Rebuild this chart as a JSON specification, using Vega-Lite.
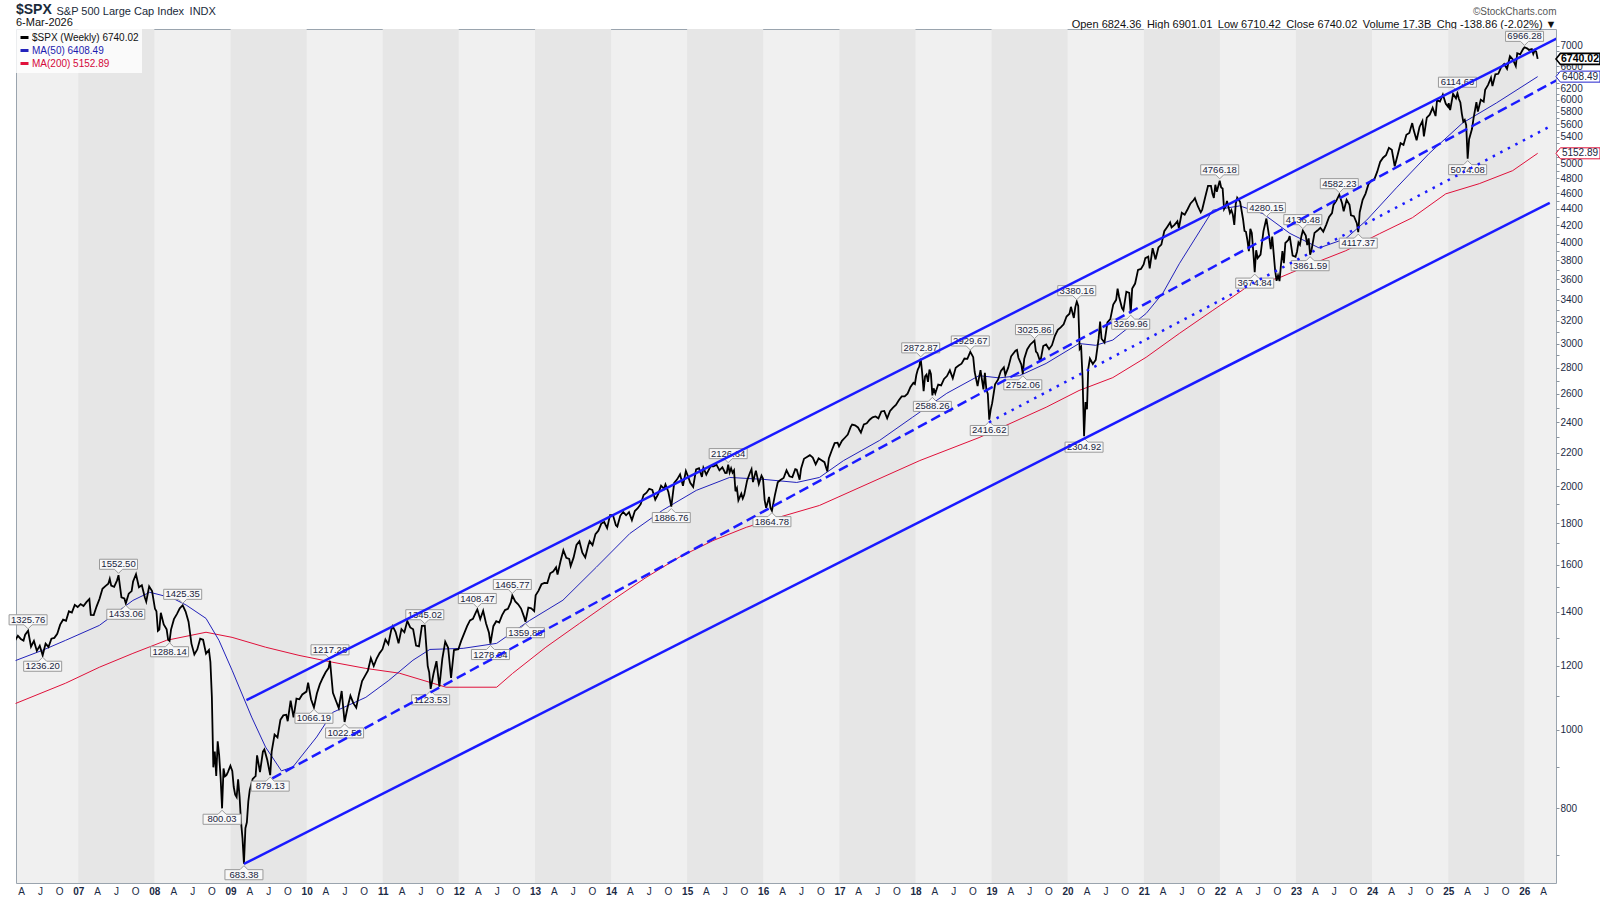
{
  "$schema": "https://vega.github.io/schema/vega-lite/v6.json",
  "width": 1540,
  "height": 854,
  "autosize": {"type": "none"},
  "padding": {"left": 16, "top": 29, "right": 44, "bottom": 17},
  "background": "white",
  "title": {
    "text": "$SPX",
    "subtitle": "6-Mar-2026",
    "anchor": "start",
    "frame": "group",
    "font": "Liberation Sans",
    "fontSize": 14,
    "fontWeight": "bold",
    "color": "#1a2a3a",
    "subtitleFont": "Liberation Sans",
    "subtitleFontSize": 11,
    "subtitleColor": "#111111",
    "subtitlePadding": 0,
    "offset": 2,
    "dy": 24
  },
  "config": {
    "font": "Liberation Sans",
    "view": {"stroke": "#9aa4ae", "fill": "#f0f0f0"}
  },
  "datasets": {
    "years": [
      {"d": "2007-01-01", "d2": "2008-01-01"},
      {"d": "2009-01-01", "d2": "2010-01-01"},
      {"d": "2011-01-01", "d2": "2012-01-01"},
      {"d": "2013-01-01", "d2": "2014-01-01"},
      {"d": "2015-01-01", "d2": "2016-01-01"},
      {"d": "2017-01-01", "d2": "2018-01-01"},
      {"d": "2019-01-01", "d2": "2020-01-01"},
      {"d": "2021-01-01", "d2": "2022-01-01"},
      {"d": "2023-01-01", "d2": "2024-01-01"},
      {"d": "2025-01-01", "d2": "2026-01-01"}
    ],
    "price": [
      {"d":"2006-03-03","v":1288},{"d":"2006-03-17","v":1307},{"d":"2006-03-31","v":1295},{"d":"2006-04-13","v":1289},{"d":"2006-04-21","v":1311},{"d":"2006-05-05","v":1325.76},{"d":"2006-05-19","v":1267},{"d":"2006-06-02","v":1288},{"d":"2006-06-16","v":1252},{"d":"2006-06-30","v":1270},{"d":"2006-07-14","v":1236.20},{"d":"2006-07-28","v":1278},{"d":"2006-08-11","v":1266},{"d":"2006-08-25","v":1296},{"d":"2006-09-08","v":1299},{"d":"2006-09-22","v":1314},{"d":"2006-10-06","v":1349},{"d":"2006-10-20","v":1368},{"d":"2006-11-03","v":1364},{"d":"2006-11-17","v":1401},{"d":"2006-12-01","v":1396},{"d":"2006-12-15","v":1427},{"d":"2006-12-29","v":1418},
      {"d":"2007-01-12","v":1430},{"d":"2007-01-26","v":1422},{"d":"2007-02-09","v":1438},{"d":"2007-02-23","v":1451},{"d":"2007-03-02","v":1387},{"d":"2007-03-16","v":1386},{"d":"2007-03-30","v":1421},{"d":"2007-04-13","v":1452},{"d":"2007-04-27","v":1494},{"d":"2007-05-11","v":1505},{"d":"2007-05-25","v":1515},{"d":"2007-06-01","v":1536},{"d":"2007-06-08","v":1507},{"d":"2007-06-22","v":1502},{"d":"2007-07-06","v":1530},{"d":"2007-07-13","v":1552.50},{"d":"2007-07-27","v":1458},{"d":"2007-08-10","v":1453},{"d":"2007-08-17","v":1433.06},{"d":"2007-08-31","v":1473},{"d":"2007-09-14","v":1484},{"d":"2007-09-21","v":1525},{"d":"2007-10-05","v":1557},{"d":"2007-10-19","v":1500},{"d":"2007-11-02","v":1509},{"d":"2007-11-16","v":1458},{"d":"2007-11-23","v":1440},{"d":"2007-12-07","v":1504},{"d":"2007-12-21","v":1484},
      {"d":"2008-01-04","v":1411},{"d":"2008-01-11","v":1401},{"d":"2008-01-18","v":1325},{"d":"2008-01-25","v":1330},{"d":"2008-02-01","v":1395},{"d":"2008-02-15","v":1350},{"d":"2008-02-29","v":1331},{"d":"2008-03-07","v":1293},{"d":"2008-03-14","v":1288.14},{"d":"2008-03-21","v":1330},{"d":"2008-04-04","v":1370},{"d":"2008-04-18","v":1390},{"d":"2008-05-02","v":1413},{"d":"2008-05-16","v":1425.35},{"d":"2008-05-30","v":1400},{"d":"2008-06-13","v":1360},{"d":"2008-06-27","v":1278},{"d":"2008-07-11","v":1239},{"d":"2008-07-25","v":1257},{"d":"2008-08-08","v":1296},{"d":"2008-08-22","v":1292},{"d":"2008-09-05","v":1242},{"d":"2008-09-19","v":1255},{"d":"2008-09-26","v":1213},{"d":"2008-10-03","v":1099},{"d":"2008-10-10","v":899},{"d":"2008-10-17","v":940},{"d":"2008-10-24","v":877},{"d":"2008-10-31","v":968},{"d":"2008-11-07","v":930},{"d":"2008-11-14","v":873},{"d":"2008-11-21","v":800.03},{"d":"2008-11-28","v":896},{"d":"2008-12-05","v":876},{"d":"2008-12-12","v":879},{"d":"2008-12-19","v":887},{"d":"2008-12-31","v":903},
      {"d":"2009-01-09","v":890},{"d":"2009-01-16","v":850},{"d":"2009-01-23","v":832},{"d":"2009-01-30","v":826},{"d":"2009-02-06","v":869},{"d":"2009-02-13","v":827},{"d":"2009-02-20","v":770},{"d":"2009-02-27","v":735},{"d":"2009-03-06","v":683.38},{"d":"2009-03-13","v":756},{"d":"2009-03-20","v":769},{"d":"2009-03-27","v":816},{"d":"2009-04-03","v":843},{"d":"2009-04-17","v":870},{"d":"2009-05-01","v":877},{"d":"2009-05-08","v":930},{"d":"2009-05-22","v":887},{"d":"2009-06-05","v":940},{"d":"2009-06-12","v":946},{"d":"2009-06-26","v":918},{"d":"2009-07-10","v":879.13},{"d":"2009-07-17","v":940},{"d":"2009-07-31","v":987},{"d":"2009-08-14","v":979},{"d":"2009-08-28","v":1029},{"d":"2009-09-11","v":1042},{"d":"2009-09-25","v":1044},{"d":"2009-10-02","v":1025},{"d":"2009-10-16","v":1087},{"d":"2009-10-30","v":1036},{"d":"2009-11-13","v":1093},{"d":"2009-11-27","v":1091},{"d":"2009-12-11","v":1106},{"d":"2009-12-31","v":1115},
      {"d":"2010-01-08","v":1144},{"d":"2010-01-22","v":1091},{"d":"2010-02-05","v":1066.19},{"d":"2010-02-19","v":1109},{"d":"2010-03-05","v":1138},{"d":"2010-03-19","v":1159},{"d":"2010-04-02","v":1178},{"d":"2010-04-16","v":1192},{"d":"2010-04-23","v":1217.28},{"d":"2010-05-07","v":1111},{"d":"2010-05-21","v":1087},{"d":"2010-06-04","v":1064},{"d":"2010-06-18","v":1117},{"d":"2010-07-02","v":1022.58},{"d":"2010-07-16","v":1065},{"d":"2010-07-30","v":1102},{"d":"2010-08-13","v":1079},{"d":"2010-08-27","v":1065},{"d":"2010-09-10","v":1110},{"d":"2010-09-24","v":1149},{"d":"2010-10-08","v":1166},{"d":"2010-10-22","v":1183},{"d":"2010-11-05","v":1226},{"d":"2010-11-19","v":1199},{"d":"2010-12-03","v":1225},{"d":"2010-12-17","v":1244},{"d":"2010-12-31","v":1258},
      {"d":"2011-01-14","v":1293},{"d":"2011-01-28","v":1276},{"d":"2011-02-11","v":1329},{"d":"2011-02-18","v":1343},{"d":"2011-03-04","v":1321},{"d":"2011-03-18","v":1279},{"d":"2011-04-01","v":1332},{"d":"2011-04-15","v":1320},{"d":"2011-04-29","v":1363},{"d":"2011-05-13","v":1338},{"d":"2011-05-27","v":1331},{"d":"2011-06-10","v":1271},{"d":"2011-06-24","v":1268},{"d":"2011-07-08","v":1344},{"d":"2011-07-22","v":1345.02},{"d":"2011-08-05","v":1199},{"d":"2011-08-12","v":1178},{"d":"2011-08-19","v":1123.53},{"d":"2011-09-02","v":1174},{"d":"2011-09-16","v":1216},{"d":"2011-09-30","v":1131},{"d":"2011-10-14","v":1224},{"d":"2011-10-28","v":1285},{"d":"2011-11-11","v":1263},{"d":"2011-11-25","v":1159},{"d":"2011-12-09","v":1255},{"d":"2011-12-30","v":1258},
      {"d":"2012-01-13","v":1289},{"d":"2012-01-27","v":1316},{"d":"2012-02-10","v":1343},{"d":"2012-02-24","v":1365},{"d":"2012-03-09","v":1371},{"d":"2012-03-23","v":1397},{"d":"2012-03-30","v":1408.47},{"d":"2012-04-13","v":1370},{"d":"2012-04-27","v":1403},{"d":"2012-05-11","v":1353},{"d":"2012-05-25","v":1318},{"d":"2012-06-01","v":1278.04},{"d":"2012-06-15","v":1343},{"d":"2012-06-29","v":1362},{"d":"2012-07-13","v":1357},{"d":"2012-07-27","v":1386},{"d":"2012-08-10","v":1406},{"d":"2012-08-24","v":1411},{"d":"2012-09-07","v":1438},{"d":"2012-09-14","v":1465.77},{"d":"2012-09-28","v":1441},{"d":"2012-10-12","v":1429},{"d":"2012-10-26","v":1412},{"d":"2012-11-09","v":1380},{"d":"2012-11-16","v":1359.88},{"d":"2012-11-30","v":1416},{"d":"2012-12-14","v":1413},{"d":"2012-12-28","v":1402},
      {"d":"2013-01-04","v":1466},{"d":"2013-01-18","v":1486},{"d":"2013-02-01","v":1513},{"d":"2013-02-15","v":1519},{"d":"2013-03-01","v":1518},{"d":"2013-03-15","v":1561},{"d":"2013-03-29","v":1569},{"d":"2013-04-12","v":1588},{"d":"2013-04-19","v":1555},{"d":"2013-05-03","v":1614},{"d":"2013-05-17","v":1667},{"d":"2013-05-31","v":1631},{"d":"2013-06-14","v":1626},{"d":"2013-06-21","v":1593},{"d":"2013-07-05","v":1632},{"d":"2013-07-19","v":1692},{"d":"2013-08-02","v":1710},{"d":"2013-08-16","v":1655},{"d":"2013-08-30","v":1633},{"d":"2013-09-13","v":1688},{"d":"2013-09-20","v":1710},{"d":"2013-10-04","v":1691},{"d":"2013-10-18","v":1745},{"d":"2013-11-01","v":1762},{"d":"2013-11-15","v":1798},{"d":"2013-11-29","v":1806},{"d":"2013-12-13","v":1775},{"d":"2013-12-27","v":1842},
      {"d":"2014-01-10","v":1842},{"d":"2014-01-24","v":1790},{"d":"2014-01-31","v":1783},{"d":"2014-02-14","v":1838},{"d":"2014-02-28","v":1859},{"d":"2014-03-14","v":1841},{"d":"2014-03-28","v":1857},{"d":"2014-04-11","v":1815},{"d":"2014-04-25","v":1863},{"d":"2014-05-09","v":1878},{"d":"2014-05-23","v":1900},{"d":"2014-06-06","v":1950},{"d":"2014-06-20","v":1963},{"d":"2014-07-03","v":1985},{"d":"2014-07-18","v":1978},{"d":"2014-08-01","v":1925},{"d":"2014-08-15","v":1955},{"d":"2014-08-29","v":2003},{"d":"2014-09-12","v":1985},{"d":"2014-09-19","v":2010},{"d":"2014-10-03","v":1967},{"d":"2014-10-17","v":1886.76},{"d":"2014-10-31","v":2018},{"d":"2014-11-14","v":2039},{"d":"2014-11-28","v":2068},{"d":"2014-12-12","v":2002},{"d":"2014-12-26","v":2088},
      {"d":"2015-01-09","v":2044},{"d":"2015-01-16","v":2019},{"d":"2015-01-30","v":1995},{"d":"2015-02-13","v":2097},{"d":"2015-02-27","v":2105},{"d":"2015-03-13","v":2053},{"d":"2015-03-20","v":2108},{"d":"2015-04-03","v":2067},{"d":"2015-04-24","v":2117},{"d":"2015-05-08","v":2116},{"d":"2015-05-22","v":2126},{"d":"2015-06-05","v":2092},{"d":"2015-06-19","v":2110},{"d":"2015-07-03","v":2076},{"d":"2015-07-10","v":2077},{"d":"2015-07-17","v":2126.64},{"d":"2015-07-24","v":2079},{"d":"2015-07-31","v":2104},{"d":"2015-08-07","v":2078},{"d":"2015-08-14","v":2092},{"d":"2015-08-21","v":1971},{"d":"2015-08-28","v":1989},{"d":"2015-09-04","v":1921},{"d":"2015-09-18","v":1958},{"d":"2015-09-25","v":1931},{"d":"2015-10-02","v":1951},{"d":"2015-10-16","v":2033},{"d":"2015-10-30","v":2079},{"d":"2015-11-06","v":2099},{"d":"2015-11-13","v":2023},{"d":"2015-11-27","v":2090},{"d":"2015-12-11","v":2012},{"d":"2015-12-24","v":2061},{"d":"2015-12-31","v":2044},
      {"d":"2016-01-08","v":1922},{"d":"2016-01-15","v":1880},{"d":"2016-01-22","v":1907},{"d":"2016-01-29","v":1940},{"d":"2016-02-05","v":1880},{"d":"2016-02-12","v":1864.78},{"d":"2016-02-26","v":1948},{"d":"2016-03-11","v":2022},{"d":"2016-03-24","v":2035},{"d":"2016-04-08","v":2047},{"d":"2016-04-22","v":2092},{"d":"2016-05-06","v":2057},{"d":"2016-05-20","v":2052},{"d":"2016-06-03","v":2099},{"d":"2016-06-10","v":2096},{"d":"2016-06-24","v":2037},{"d":"2016-07-01","v":2103},{"d":"2016-07-15","v":2162},{"d":"2016-07-29","v":2173},{"d":"2016-08-12","v":2184},{"d":"2016-08-26","v":2169},{"d":"2016-09-09","v":2128},{"d":"2016-09-23","v":2165},{"d":"2016-10-07","v":2153},{"d":"2016-10-21","v":2141},{"d":"2016-11-04","v":2085},{"d":"2016-11-11","v":2164},{"d":"2016-11-25","v":2213},{"d":"2016-12-09","v":2260},{"d":"2016-12-23","v":2263},{"d":"2016-12-30","v":2239},
      {"d":"2017-01-13","v":2275},{"d":"2017-01-27","v":2295},{"d":"2017-02-10","v":2316},{"d":"2017-02-24","v":2367},{"d":"2017-03-03","v":2383},{"d":"2017-03-17","v":2378},{"d":"2017-03-31","v":2363},{"d":"2017-04-14","v":2329},{"d":"2017-04-28","v":2384},{"d":"2017-05-12","v":2391},{"d":"2017-05-26","v":2416},{"d":"2017-06-09","v":2432},{"d":"2017-06-23","v":2438},{"d":"2017-07-07","v":2425},{"d":"2017-07-21","v":2473},{"d":"2017-08-04","v":2477},{"d":"2017-08-18","v":2426},{"d":"2017-09-01","v":2477},{"d":"2017-09-15","v":2500},{"d":"2017-09-29","v":2519},{"d":"2017-10-13","v":2553},{"d":"2017-10-27","v":2581},{"d":"2017-11-10","v":2582},{"d":"2017-11-24","v":2602},{"d":"2017-12-08","v":2652},{"d":"2017-12-22","v":2683},{"d":"2017-12-29","v":2674},
      {"d":"2018-01-05","v":2743},{"d":"2018-01-12","v":2786},{"d":"2018-01-19","v":2810},{"d":"2018-01-26","v":2872.87},{"d":"2018-02-02","v":2762},{"d":"2018-02-09","v":2620},{"d":"2018-02-16","v":2732},{"d":"2018-02-23","v":2747},{"d":"2018-03-02","v":2691},{"d":"2018-03-09","v":2786},{"d":"2018-03-16","v":2752},{"d":"2018-03-23","v":2588.26},{"d":"2018-03-29","v":2641},{"d":"2018-04-06","v":2604},{"d":"2018-04-20","v":2670},{"d":"2018-05-04","v":2663},{"d":"2018-05-18","v":2713},{"d":"2018-06-01","v":2735},{"d":"2018-06-15","v":2780},{"d":"2018-06-29","v":2718},{"d":"2018-07-13","v":2801},{"d":"2018-07-27","v":2819},{"d":"2018-08-10","v":2833},{"d":"2018-08-24","v":2875},{"d":"2018-09-07","v":2872},{"d":"2018-09-21","v":2929.67},{"d":"2018-10-05","v":2886},{"d":"2018-10-12","v":2767},{"d":"2018-10-26","v":2659},{"d":"2018-11-02","v":2723},{"d":"2018-11-09","v":2781},{"d":"2018-11-23","v":2633},{"d":"2018-11-30","v":2760},{"d":"2018-12-07","v":2633},{"d":"2018-12-14","v":2600},{"d":"2018-12-21","v":2416.62},{"d":"2018-12-28","v":2486},
      {"d":"2019-01-04","v":2532},{"d":"2019-01-18","v":2671},{"d":"2019-02-01","v":2707},{"d":"2019-02-15","v":2776},{"d":"2019-03-01","v":2804},{"d":"2019-03-08","v":2743},{"d":"2019-03-22","v":2801},{"d":"2019-04-05","v":2893},{"d":"2019-04-26","v":2940},{"d":"2019-05-03","v":2946},{"d":"2019-05-10","v":2881},{"d":"2019-05-24","v":2826},{"d":"2019-05-31","v":2752.06},{"d":"2019-06-07","v":2873},{"d":"2019-06-21","v":2950},{"d":"2019-07-05","v":2990},{"d":"2019-07-26","v":3025.86},{"d":"2019-08-02","v":2932},{"d":"2019-08-09","v":2919},{"d":"2019-08-23","v":2847},{"d":"2019-09-06","v":2979},{"d":"2019-09-20","v":2992},{"d":"2019-10-04","v":2952},{"d":"2019-10-18","v":2986},{"d":"2019-11-01","v":3067},{"d":"2019-11-15","v":3120},{"d":"2019-11-29","v":3141},{"d":"2019-12-13","v":3169},{"d":"2019-12-27","v":3240},
      {"d":"2020-01-10","v":3265},{"d":"2020-01-17","v":3330},{"d":"2020-01-31","v":3226},{"d":"2020-02-07","v":3328},{"d":"2020-02-14","v":3380.16},{"d":"2020-02-21","v":3338},{"d":"2020-02-28","v":2954},{"d":"2020-03-06","v":2972},{"d":"2020-03-13","v":2711},{"d":"2020-03-20","v":2304.92},{"d":"2020-03-27","v":2541},{"d":"2020-04-03","v":2489},{"d":"2020-04-09","v":2790},{"d":"2020-04-17","v":2875},{"d":"2020-05-01","v":2831},{"d":"2020-05-15","v":2864},{"d":"2020-05-29","v":3044},{"d":"2020-06-05","v":3194},{"d":"2020-06-12","v":3041},{"d":"2020-06-26","v":3009},{"d":"2020-07-10","v":3185},{"d":"2020-07-24","v":3216},{"d":"2020-08-07","v":3351},{"d":"2020-08-21","v":3397},{"d":"2020-08-28","v":3508},{"d":"2020-09-04","v":3427},{"d":"2020-09-18","v":3319},{"d":"2020-09-25","v":3298},{"d":"2020-10-09","v":3477},{"d":"2020-10-23","v":3465},{"d":"2020-10-30","v":3269.96},{"d":"2020-11-06","v":3509},{"d":"2020-11-20","v":3558},{"d":"2020-12-04","v":3699},{"d":"2020-12-18","v":3709},{"d":"2020-12-31","v":3756},
      {"d":"2021-01-08","v":3825},{"d":"2021-01-22","v":3841},{"d":"2021-01-29","v":3714},{"d":"2021-02-12","v":3934},{"d":"2021-02-26","v":3811},{"d":"2021-03-12","v":3943},{"d":"2021-03-26","v":3975},{"d":"2021-04-09","v":4129},{"d":"2021-04-23","v":4180},{"d":"2021-05-07","v":4233},{"d":"2021-05-14","v":4174},{"d":"2021-05-28","v":4204},{"d":"2021-06-11","v":4247},{"d":"2021-06-18","v":4167},{"d":"2021-07-02","v":4352},{"d":"2021-07-16","v":4327},{"d":"2021-07-30","v":4395},{"d":"2021-08-13","v":4468},{"d":"2021-08-27","v":4509},{"d":"2021-09-03","v":4535},{"d":"2021-09-17","v":4433},{"d":"2021-10-01","v":4357},{"d":"2021-10-08","v":4391},{"d":"2021-10-22","v":4545},{"d":"2021-11-05","v":4697},{"d":"2021-11-19","v":4698},{"d":"2021-11-26","v":4595},{"d":"2021-12-03","v":4538},{"d":"2021-12-10","v":4712},{"d":"2021-12-17","v":4620},{"d":"2021-12-31","v":4766.18},
      {"d":"2022-01-07","v":4677},{"d":"2022-01-14","v":4663},{"d":"2022-01-21","v":4398},{"d":"2022-01-28","v":4432},{"d":"2022-02-04","v":4501},{"d":"2022-02-18","v":4349},{"d":"2022-02-25","v":4385},{"d":"2022-03-04","v":4329},{"d":"2022-03-11","v":4204},{"d":"2022-03-18","v":4463},{"d":"2022-03-25","v":4543},{"d":"2022-04-08","v":4488},{"d":"2022-04-22","v":4272},{"d":"2022-04-29","v":4132},{"d":"2022-05-06","v":4123},{"d":"2022-05-13","v":4024},{"d":"2022-05-20","v":3901},{"d":"2022-05-27","v":4158},{"d":"2022-06-03","v":4109},{"d":"2022-06-10","v":3901},{"d":"2022-06-17","v":3674.84},{"d":"2022-06-24","v":3912},{"d":"2022-07-01","v":3825},{"d":"2022-07-15","v":3863},{"d":"2022-07-29","v":4130},{"d":"2022-08-12","v":4280.15},{"d":"2022-08-26","v":4058},{"d":"2022-09-02","v":3924},{"d":"2022-09-09","v":4067},{"d":"2022-09-23","v":3693},{"d":"2022-09-30","v":3586},{"d":"2022-10-07","v":3640},{"d":"2022-10-14","v":3583},{"d":"2022-10-21","v":3752},{"d":"2022-10-28","v":3901},{"d":"2022-11-04","v":3771},{"d":"2022-11-11","v":3993},{"d":"2022-11-25","v":4026},{"d":"2022-12-02","v":4072},{"d":"2022-12-16","v":3852},{"d":"2022-12-30","v":3840},
      {"d":"2023-01-06","v":3895},{"d":"2023-01-13","v":3999},{"d":"2023-01-20","v":3972},{"d":"2023-01-27","v":4071},{"d":"2023-02-03","v":4136.48},{"d":"2023-02-17","v":4079},{"d":"2023-02-24","v":3970},{"d":"2023-03-03","v":4046},{"d":"2023-03-10","v":3861.59},{"d":"2023-03-17","v":3917},{"d":"2023-03-31","v":4109},{"d":"2023-04-14","v":4137},{"d":"2023-04-28","v":4169},{"d":"2023-05-12","v":4124},{"d":"2023-05-26","v":4205},{"d":"2023-06-09","v":4299},{"d":"2023-06-23","v":4348},{"d":"2023-06-30","v":4450},{"d":"2023-07-14","v":4505},{"d":"2023-07-28","v":4582.23},{"d":"2023-08-11","v":4464},{"d":"2023-08-18","v":4370},{"d":"2023-09-01","v":4515},{"d":"2023-09-15","v":4450},{"d":"2023-09-22","v":4320},{"d":"2023-10-06","v":4309},{"d":"2023-10-20","v":4224},{"d":"2023-10-27","v":4117.37},{"d":"2023-11-03","v":4358},{"d":"2023-11-17","v":4514},{"d":"2023-12-01","v":4595},{"d":"2023-12-15","v":4719},{"d":"2023-12-29","v":4770},
      {"d":"2024-01-12","v":4784},{"d":"2024-01-26","v":4891},{"d":"2024-02-09","v":5027},{"d":"2024-02-23","v":5089},{"d":"2024-03-08","v":5124},{"d":"2024-03-22","v":5234},{"d":"2024-04-05","v":5204},{"d":"2024-04-19","v":4967},{"d":"2024-05-03","v":5128},{"d":"2024-05-17","v":5303},{"d":"2024-05-31","v":5278},{"d":"2024-06-14","v":5432},{"d":"2024-06-28","v":5460},{"d":"2024-07-12","v":5615},{"d":"2024-07-19","v":5505},{"d":"2024-08-02","v":5347},{"d":"2024-08-16","v":5554},{"d":"2024-08-30","v":5648},{"d":"2024-09-06","v":5408},{"d":"2024-09-20","v":5703},{"d":"2024-10-04","v":5751},{"d":"2024-10-18","v":5865},{"d":"2024-11-01","v":5729},{"d":"2024-11-08","v":5995},{"d":"2024-11-22","v":5969},{"d":"2024-12-06","v":6090},{"d":"2024-12-20","v":5931},{"d":"2024-12-31","v":5882},
      {"d":"2025-01-03","v":5942},{"d":"2025-01-10","v":5827},{"d":"2025-01-24","v":6101},{"d":"2025-02-07","v":6026},{"d":"2025-02-14","v":6114.63},{"d":"2025-02-21","v":6013},{"d":"2025-02-28","v":5955},{"d":"2025-03-07","v":5770},{"d":"2025-03-14","v":5639},{"d":"2025-03-21","v":5667},{"d":"2025-03-28","v":5581},{"d":"2025-04-04","v":5074.08},{"d":"2025-04-11","v":5363},{"d":"2025-04-25","v":5525},{"d":"2025-05-02","v":5687},{"d":"2025-05-16","v":5958},{"d":"2025-05-23","v":5803},{"d":"2025-06-06","v":6000},{"d":"2025-06-20","v":5968},{"d":"2025-06-27","v":6173},{"d":"2025-07-11","v":6260},{"d":"2025-07-25","v":6389},{"d":"2025-08-01","v":6238},{"d":"2025-08-15","v":6450},{"d":"2025-08-29","v":6460},{"d":"2025-09-12","v":6584},{"d":"2025-09-26","v":6644},{"d":"2025-10-10","v":6553},{"d":"2025-10-24","v":6792},{"d":"2025-11-07","v":6729},{"d":"2025-11-21","v":6603},{"d":"2025-11-28","v":6849},{"d":"2025-12-12","v":6827},{"d":"2025-12-26","v":6930},
      {"d":"2026-01-02","v":6966.28},{"d":"2026-01-16","v":6940},{"d":"2026-01-23","v":6915},{"d":"2026-02-06","v":6932},{"d":"2026-02-13","v":6836},{"d":"2026-02-20","v":6910},{"d":"2026-02-27","v":6879},{"d":"2026-03-06","v":6740.02}
    ],
    "ma50": [
      {"d":"2006-03-06","v":1218},{"d":"2006-07-13","v":1254},{"d":"2006-11-01","v":1290},{"d":"2007-04-12","v":1346},{"d":"2007-09-20","v":1445},{"d":"2007-12-10","v":1479},{"d":"2008-03-27","v":1455},{"d":"2008-06-02","v":1426},{"d":"2008-09-05","v":1373},{"d":"2008-11-06","v":1290},{"d":"2009-01-08","v":1185},{"d":"2009-04-12","v":1037},{"d":"2009-06-18","v":952},{"d":"2009-09-02","v":890},{"d":"2009-10-27","v":900},{"d":"2010-02-18","v":980},{"d":"2010-05-06","v":1051},{"d":"2010-10-12","v":1097},{"d":"2011-01-30","v":1151},{"d":"2011-05-26","v":1219},{"d":"2011-08-15","v":1257},{"d":"2012-01-22","v":1261},{"d":"2012-07-01","v":1279},{"d":"2012-12-06","v":1365},{"d":"2013-05-15","v":1446},{"d":"2013-10-22","v":1588},{"d":"2014-04-01","v":1748},{"d":"2014-09-06","v":1868},{"d":"2015-02-14","v":1976},{"d":"2015-07-24","v":2050},{"d":"2016-01-01","v":2039},{"d":"2016-06-10","v":2021},{"d":"2016-09-27","v":2050},{"d":"2017-01-20","v":2150},{"d":"2017-07-13","v":2278},{"d":"2017-12-18","v":2433},{"d":"2018-05-31","v":2604},{"d":"2018-11-02","v":2738},{"d":"2019-02-06","v":2721},{"d":"2019-05-15","v":2738},{"d":"2019-09-20","v":2835},{"d":"2020-02-25","v":3000},{"d":"2020-05-15","v":2985},{"d":"2020-08-05","v":3030},{"d":"2021-01-12","v":3268},{"d":"2021-04-02","v":3462},{"d":"2021-06-20","v":3764},{"d":"2021-11-28","v":4383},{"d":"2022-04-06","v":4437},{"d":"2022-07-27","v":4340},{"d":"2022-12-03","v":4103},{"d":"2023-04-22","v":3937},{"d":"2023-08-28","v":4043},{"d":"2023-12-06","v":4260},{"d":"2024-04-27","v":4671},{"d":"2024-10-01","v":5150},{"d":"2025-03-10","v":5615},{"d":"2025-08-20","v":5946},{"d":"2026-03-06","v":6408.49}
    ],
    "ma200": [
      {"d":"2006-03-06","v":1078},{"d":"2006-11-01","v":1142},{"d":"2007-04-12","v":1195},{"d":"2007-09-20","v":1243},{"d":"2008-02-28","v":1290},{"d":"2008-09-05","v":1320},{"d":"2009-01-08","v":1301},{"d":"2009-06-18","v":1265},{"d":"2009-11-25","v":1236},{"d":"2010-05-06","v":1212},{"d":"2010-10-12","v":1191},{"d":"2011-03-22","v":1175},{"d":"2011-11-01","v":1129},{"d":"2012-07-01","v":1129},{"d":"2012-09-15","v":1174},{"d":"2013-02-22","v":1265},{"d":"2013-08-03","v":1354},{"d":"2014-01-08","v":1446},{"d":"2014-06-17","v":1542},{"d":"2014-11-24","v":1634},{"d":"2015-05-05","v":1713},{"d":"2015-10-12","v":1779},{"d":"2016-03-18","v":1831},{"d":"2016-09-27","v":1893},{"d":"2018-01-22","v":2151},{"d":"2018-11-02","v":2296},{"d":"2019-09-20","v":2503},{"d":"2020-02-25","v":2625},{"d":"2020-08-05","v":2723},{"d":"2021-01-12","v":2885},{"d":"2021-06-20","v":3087},{"d":"2021-11-28","v":3297},{"d":"2022-04-06","v":3473},{"d":"2022-05-08","v":3521},{"d":"2022-10-17","v":3621},{"d":"2023-03-22","v":3764},{"d":"2023-08-28","v":3906},{"d":"2024-02-06","v":4100},{"d":"2024-07-13","v":4291},{"d":"2024-12-20","v":4592},{"d":"2025-05-30","v":4727},{"d":"2025-11-06","v":4905},{"d":"2026-03-06","v":5152.89}
    ],
    "channels": [
      {"line":"upper","d":"2009-03-18","v":1088},{"line":"upper","d":"2026-06-24","v":7180},
      {"line":"lower","d":"2009-03-06","v":683},{"line":"lower","d":"2026-05-03","v":4475},
      {"line":"mid","d":"2009-07-20","v":871},{"line":"mid","d":"2026-06-28","v":6390},
      {"line":"support","d":"2018-12-20","v":2398},{"line":"support","d":"2026-04-23","v":5543}
    ],
    "notes": [
      {"d":"2006-05-05","v":1325.76,"kind":"peak"},{"d":"2007-07-13","v":1552.50,"kind":"peak"},{"d":"2008-05-16","v":1425.35,"kind":"peak"},{"d":"2010-04-23","v":1217.28,"kind":"peak"},{"d":"2011-07-22","v":1345.02,"kind":"peak"},{"d":"2012-03-30","v":1408.47,"kind":"peak"},{"d":"2012-09-14","v":1465.77,"kind":"peak"},{"d":"2015-07-17","v":2126.64,"kind":"peak"},{"d":"2018-01-26","v":2872.87,"kind":"peak"},{"d":"2018-09-21","v":2929.67,"kind":"peak"},{"d":"2019-07-26","v":3025.86,"kind":"peak"},{"d":"2020-02-14","v":3380.16,"kind":"peak"},{"d":"2021-12-31","v":4766.18,"kind":"peak"},{"d":"2022-08-12","v":4280.15,"kind":"peak"},{"d":"2023-02-03","v":4136.48,"kind":"peak"},{"d":"2023-07-28","v":4582.23,"kind":"peak"},{"d":"2025-02-14","v":6114.63,"kind":"peak"},{"d":"2026-01-02","v":6966.28,"kind":"peak"},
      {"d":"2006-07-14","v":1236.20,"kind":"trough"},{"d":"2007-08-17","v":1433.06,"kind":"trough"},{"d":"2008-03-14","v":1288.14,"kind":"trough"},{"d":"2008-11-21","v":800.03,"kind":"trough"},{"d":"2009-03-06","v":683.38,"kind":"trough"},{"d":"2009-07-10","v":879.13,"kind":"trough"},{"d":"2010-02-05","v":1066.19,"kind":"trough"},{"d":"2010-07-02","v":1022.58,"kind":"trough"},{"d":"2011-08-19","v":1123.53,"kind":"trough"},{"d":"2012-06-01","v":1278.04,"kind":"trough"},{"d":"2012-11-16","v":1359.88,"kind":"trough"},{"d":"2014-10-17","v":1886.76,"kind":"trough"},{"d":"2016-02-12","v":1864.78,"kind":"trough"},{"d":"2018-03-23","v":2588.26,"kind":"trough"},{"d":"2018-12-21","v":2416.62,"kind":"trough"},{"d":"2019-05-31","v":2752.06,"kind":"trough"},{"d":"2020-03-20","v":2304.92,"kind":"trough"},{"d":"2020-10-30","v":3269.96,"kind":"trough"},{"d":"2022-06-17","v":3674.84,"kind":"trough"},{"d":"2023-03-10","v":3861.59,"kind":"trough"},{"d":"2023-10-27","v":4117.37,"kind":"trough"},{"d":"2025-04-04","v":5074.08,"kind":"trough"}
    ],
    "tags": [
      {"s":"price","v":6740.02},{"s":"ma50","v":6408.49},{"s":"ma200","v":5152.89}
    ]
  },
  "layer": [
    {
      "data": {"name": "years"},
      "mark": {"type": "rect", "color": "#e6e6e6"},
      "encoding": {
        "x": {
          "field": "d", "type": "temporal",
          "scale": {"domain": [{"year": 2006, "month": 3, "date": 8}, {"year": 2026, "month": 6, "date": 2}], "nice": false},
          "axis": {
            "title": "Open 6824.36\u2002High 6901.01\u2002Low 6710.42\u2002Close 6740.02\u2002Volume 17.3B\u2002Chg -138.86 (-2.02%) \u25BC",
            "titleX": 1540, "titleY": -856, "titleAlign": "right", "titleBaseline": "alphabetic",
            "titleFontSize": 11, "titleFontWeight": "normal", "titleColor": "#111111",
            "tickCount": {"interval": "month", "step": 3},
            "labelExpr": "month(datum.value) == 0 ? timeFormat(datum.value, '%y') : month(datum.value) == 3 ? 'A' : month(datum.value) == 6 ? 'J' : 'O'",
            "labelFontWeight": {"condition": {"test": "month(datum.value) == 0", "value": "bold"}, "value": "normal"},
            "labelFontSize": 10, "labelColor": "#1c2b45", "labelPadding": 3, "labelAngle": 0,
            "ticks": false, "tickSize": 0, "domain": false, "grid": false,
            "labelOverlap": false, "labelFlush": false, "labelBound": false
          }
        },
        "x2": {"field": "d2"}
      }
    },
    {
      "layer": [
        {
          "data": {"name": "ma200"},
          "mark": {"type": "line", "strokeWidth": 1},
          "encoding": {
            "x": {"field": "d", "type": "temporal"},
            "y": {
              "field": "v", "type": "quantitative",
              "scale": {"type": "log", "domain": [647, 7338], "nice": false, "zero": false},
              "axis": {
                "orient": "right",
                "title": "\u00A9StockCharts.com", "titleAngle": 0, "titleAlign": "right", "titleBaseline": "alphabetic",
                "titleX": 0, "titleY": -14.5, "titleFontSize": 10, "titleFontWeight": "normal", "titleColor": "#555555",
                "values": [700,800,900,1000,1100,1200,1300,1400,1500,1600,1700,1800,1900,2000,2100,2200,2300,2400,2500,2600,2700,2800,2900,3000,3100,3200,3300,3400,3500,3600,3700,3800,3900,4000,4100,4200,4300,4400,4500,4600,4700,4800,4900,5000,5100,5200,5300,5400,5500,5600,5700,5800,5900,6000,6100,6200,6300,6400,6500,6600,6700,6800,6900,7000],
                "labelExpr": "datum.value % 200 == 0 && datum.value != 5200 && datum.value != 6400 && datum.value != 6800 ? '' + datum.value : ''",
                "labelFontSize": 10, "labelColor": "#1c2b45", "labelPadding": 1,
                "tickSize": 3, "tickColor": "#8a949e", "domain": false, "grid": false,
                "labelOverlap": false, "labelBound": false, "labelFlush": false
              }
            },
            "color": {
              "datum": "MA(200) 5152.89", "type": "nominal",
              "scale": {"domain": ["$SPX (Weekly) 6740.02", "MA(50) 6408.49", "MA(200) 5152.89"], "range": ["#000000", "#2222bb", "#e0103a"]},
              "legend": {
                "orient": "top-left", "offset": 0, "padding": 3, "title": null, "zindex": 1,
                "fillColor": "rgba(255,255,255,0.8)",
                "symbolType": "stroke", "symbolSize": 64, "symbolStrokeWidth": 3,
                "labelFontSize": 10, "labelFont": "Liberation Sans", "labelOffset": 2, "rowPadding": 0,
                "encode": {"labels": {"update": {"fill": {"signal": "datum.value == 'MA(50) 6408.49' ? '#1c1cb0' : datum.value == 'MA(200) 5152.89' ? '#d4083a' : '#111111'"}}}}
              }
            }
          }
        },
        {
          "data": {"name": "ma50"},
          "mark": {"type": "line", "strokeWidth": 1},
          "encoding": {
            "x": {"field": "d", "type": "temporal"},
            "y": {"field": "v", "type": "quantitative"},
            "color": {"datum": "MA(50) 6408.49", "type": "nominal"}
          }
        },
        {
          "data": {"name": "price"},
          "mark": {"type": "line", "strokeWidth": 1.8, "clip": true},
          "encoding": {
            "x": {"field": "d", "type": "temporal"},
            "y": {"field": "v", "type": "quantitative"},
            "color": {"datum": "$SPX (Weekly) 6740.02", "type": "nominal"}
          }
        },
        {
          "data": {"name": "notes"},
          "transform": [{"filter": "datum.kind == 'peak'"}],
          "mark": {"type": "point", "shape": "M0,-0.1L-0.21,-0.31L-1,-0.31L-1,-0.84L1,-0.84L1,-0.31L0.21,-0.31Z", "size": 1444, "filled": true, "fill": "#f8f8f8", "stroke": "#9a9a9a", "strokeWidth": 1, "opacity": 1},
          "encoding": {
            "x": {"field": "d", "type": "temporal"},
            "y": {"field": "v", "type": "quantitative"}
          }
        },
        {
          "data": {"name": "notes"},
          "transform": [{"filter": "datum.kind == 'peak'"}],
          "mark": {"type": "text", "fontSize": 9.5, "font": "Liberation Sans", "fill": "#1a2540", "dy": -10.9, "baseline": "middle", "align": "center"},
          "encoding": {
            "x": {"field": "d", "type": "temporal"},
            "y": {"field": "v", "type": "quantitative"},
            "text": {"field": "v", "type": "quantitative", "format": ".2f"}
          }
        },
        {
          "data": {"name": "notes"},
          "transform": [{"filter": "datum.kind == 'trough'"}],
          "mark": {"type": "point", "shape": "M0,0.1L-0.21,0.31L-1,0.31L-1,0.84L1,0.84L1,0.31L0.21,0.31Z", "size": 1444, "filled": true, "fill": "#f8f8f8", "stroke": "#9a9a9a", "strokeWidth": 1, "opacity": 1},
          "encoding": {
            "x": {"field": "d", "type": "temporal"},
            "y": {"field": "v", "type": "quantitative"}
          }
        },
        {
          "data": {"name": "notes"},
          "transform": [{"filter": "datum.kind == 'trough'"}],
          "mark": {"type": "text", "fontSize": 9.5, "font": "Liberation Sans", "fill": "#1a2540", "dy": 10.9, "baseline": "middle", "align": "center"},
          "encoding": {
            "x": {"field": "d", "type": "temporal"},
            "y": {"field": "v", "type": "quantitative"},
            "text": {"field": "v", "type": "quantitative", "format": ".2f"}
          }
        },
        {
          "data": {"name": "channels"},
          "transform": [{"filter": "datum.line == 'upper' || datum.line == 'lower'"}],
          "mark": {"type": "line", "color": "#1a1aff", "strokeWidth": 2.5, "clip": true},
          "encoding": {
            "x": {"field": "d", "type": "temporal"},
            "y": {"field": "v", "type": "quantitative"},
            "detail": {"field": "line"}
          }
        },
        {
          "data": {"name": "channels"},
          "transform": [{"filter": "datum.line == 'mid'"}],
          "mark": {"type": "line", "color": "#1a1aff", "strokeWidth": 2.5, "strokeDash": [10, 5], "clip": true},
          "encoding": {
            "x": {"field": "d", "type": "temporal"},
            "y": {"field": "v", "type": "quantitative"}
          }
        },
        {
          "data": {"name": "channels"},
          "transform": [{"filter": "datum.line == 'support'"}],
          "mark": {"type": "line", "color": "#1a1aff", "strokeWidth": 2.5, "strokeDash": [2.5, 6], "clip": true},
          "encoding": {
            "x": {"field": "d", "type": "temporal"},
            "y": {"field": "v", "type": "quantitative"}
          }
        },
        {
          "data": {"name": "tags"},
          "mark": {"type": "point", "shape": "M0,0L0.2,-0.25L2,-0.25L2,0.25L0.2,0.25Z", "size": 1936, "filled": true, "fill": "#ffffff", "opacity": 1, "clip": false},
          "encoding": {
            "x": {"datum": {"year": 2026, "month": 6, "date": 2}, "type": "temporal"},
            "y": {"field": "v", "type": "quantitative"},
            "stroke": {"condition": [{"test": "datum.s == 'ma50'", "value": "#2222cc"}, {"test": "datum.s == 'ma200'", "value": "#e0103a"}], "value": "#000000"},
            "strokeWidth": {"condition": {"test": "datum.s == 'price'", "value": 1.6}, "value": 1}
          }
        },
        {
          "data": {"name": "tags"},
          "transform": [{"filter": "datum.s == 'price'"}],
          "mark": {"type": "text", "fontSize": 10.5, "fontWeight": "bold", "font": "Liberation Sans", "fill": "#000000", "dx": 24, "align": "center", "baseline": "middle", "clip": false},
          "encoding": {
            "x": {"datum": {"year": 2026, "month": 6, "date": 2}, "type": "temporal"},
            "y": {"field": "v", "type": "quantitative"},
            "text": {"field": "v", "type": "quantitative", "format": ".2f"}
          }
        },
        {
          "data": {"name": "tags"},
          "transform": [{"filter": "datum.s != 'price'"}],
          "mark": {"type": "text", "fontSize": 10, "font": "Liberation Sans", "fill": "#1a2540", "dx": 24, "align": "center", "baseline": "middle", "clip": false},
          "encoding": {
            "x": {"datum": {"year": 2026, "month": 6, "date": 2}, "type": "temporal"},
            "y": {"field": "v", "type": "quantitative"},
            "text": {"field": "v", "type": "quantitative", "format": ".2f"}
          }
        }
      ]
    },
    {
      "data": {"name": "tags"},
      "mark": {"type": "point", "opacity": 0},
      "encoding": {
        "y": {
          "field": "v", "type": "quantitative",
          "scale": {"type": "log", "domain": [647, 7338], "nice": false, "zero": false},
          "axis": {
            "orient": "left", "labels": false, "ticks": false, "domain": false, "grid": false,
            "title": "S&P 500 Large Cap Index\u2002INDX", "titleAngle": 0, "titleAlign": "left", "titleBaseline": "alphabetic",
            "titleX": 40, "titleY": -14.5, "titleFontSize": 11, "titleFontWeight": "normal", "titleColor": "#1a2a3a"
          }
        }
      }
    }
  ],
  "resolve": {"axis": {"y": "independent"}}
}
